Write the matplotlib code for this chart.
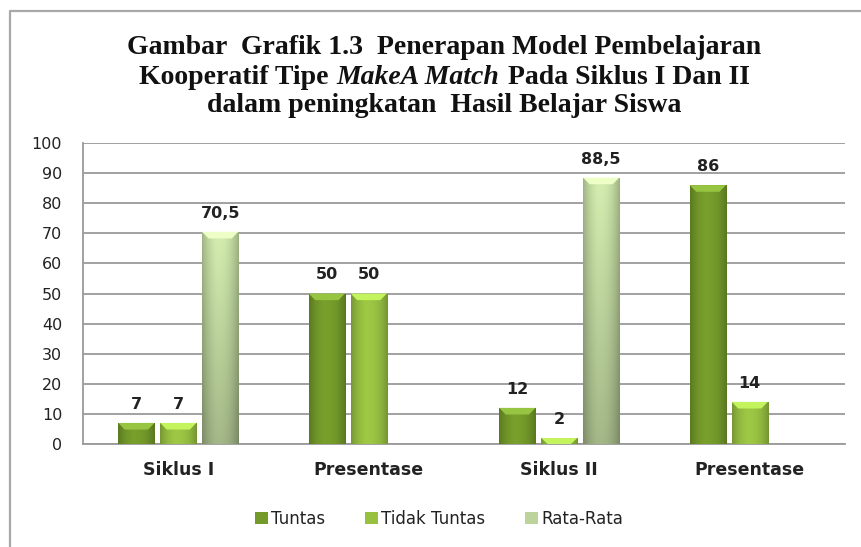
import numpy as np
import matplotlib
matplotlib.use("Agg")
import matplotlib.pyplot as plt
from matplotlib.lines import Line2D
from matplotlib.offsetbox import TextArea, HPacker, AnchoredOffsetbox
from matplotlib.colors import to_rgb

categories = ["Siklus I", "Presentase", "Siklus II", "Presentase"]
series_names = ["Tuntas", "Tidak Tuntas", "Rata-Rata"]
tuntas = [7, 50, 12, 86]
tidak_tuntas = [7, 50, 2, 14]
rata_rata = [70.5, np.nan, 88.5, np.nan]
yticks = [0, 10, 20, 30, 40, 50, 60, 70, 80, 90, 100]

colors = ["#749a2a", "#98c142", "#bcd39c"]

W, H = 861, 547
fig = plt.figure(figsize=(W / 100, H / 100), dpi=100)
fig.patch.set_facecolor("white")

# outer border (top + left)
fig.add_artist(Line2D([10 / W, 10 / W, 1.0], [0.0, 1 - 11 / H, 1 - 11 / H],
                      transform=fig.transFigure, color="#a8a8a8", lw=1.6))

ax = fig.add_axes([83 / W, 1 - 444 / H, (845 - 83) / W, (444 - 143) / H])
ax.set_xlim(-0.5, len(categories) - 0.5)
ax.set_ylim(0, 100)

x = np.arange(len(categories))
step = 0.22
width = 0.19
all_series = [tuntas, tidak_tuntas, rata_rata]


def fmt(v):
    s = ("%g" % v)
    return s.replace(".", ",")


for i, (vals, name, col) in enumerate(zip(all_series, series_names, colors)):
    bars = ax.bar(x + (i - 1) * step, vals, width, color=col, label=name,
                  zorder=3, edgecolor="none")
    base = np.array(to_rgb(col))
    for b, v in zip(bars, vals):
        if np.isnan(v):
            continue
        bx, by = b.get_x(), b.get_y()
        bw, bh = b.get_width(), b.get_height()
        nx, ny = 40, 60
        t = np.linspace(-1, 1, nx)
        shade = 1.0 - 0.22 * np.abs(t) ** 2.2 + 0.04 * (1 - np.abs(t + 0.2))
        img = np.ones((ny, nx, 3)) * base
        img = img * shade[None, :, None]
        if i == 2:
            vert = np.linspace(1.09, 0.84, ny)  # row 0 = top, lighter
            img = img * vert[:, None, None]
        img = np.clip(img, 0, 1)
        im = ax.imshow(img, extent=[bx, bx + bw, by, by + bh], origin="upper",
                       aspect="auto", zorder=3.5, interpolation="bilinear")
        im.set_clip_path(b)
        # top highlight band
        hh = min(2.2, bh)
        hl = np.clip(base * 1.18 + 0.06, 0, 1)
        ax.fill([bx, bx + bw, bx + bw * 0.82, bx + bw * 0.18],
                [by + bh, by + bh, by + bh - hh, by + bh - hh],
                color=hl, zorder=3.6, lw=0)
        ax.annotate(fmt(v), (bx + bw / 2, by + bh), xytext=(0, 8),
                    textcoords="offset points", ha="center", va="bottom",
                    fontsize=11.5, fontweight="bold", color="#222222",
                    family="DejaVu Sans", zorder=5)

ax.set_xlim(-0.5, len(categories) - 0.5)
ax.set_ylim(0, 100)
ax.set_yticks(yticks)
ax.set_yticklabels([str(t) for t in yticks], fontsize=11.5, color="#222222")
ax.tick_params(axis="y", length=0, pad=15)
ax.set_xticks(x)
ax.set_xticklabels(categories, fontsize=12.5, fontweight="bold", color="#222222")
ax.tick_params(axis="x", length=0, pad=12)
ax.yaxis.grid(True, color="#9a9a9a", lw=1.3, zorder=1)
ax.set_axisbelow(True)
for s in ["top", "right"]:
    ax.spines[s].set_visible(False)
ax.spines["left"].set_color("#9a9a9a")
ax.spines["left"].set_linewidth(1.3)
ax.spines["bottom"].set_color("#9a9a9a")
ax.spines["bottom"].set_linewidth(1.3)

leg = fig.legend(loc="center", bbox_to_anchor=(0.51, 1 - 519 / H), ncol=3,
                 frameon=False, fontsize=12, handlelength=0.75,
                 handleheight=0.75, handletextpad=0.2, columnspacing=2.4)
for t in leg.get_texts():
    t.set_color("#222222")

# title
tfont = dict(family="Liberation Serif", weight="bold", size=20, color="#111111")
line1 = "Gambar  Grafik 1.3  Penerapan Model Pembelajaran"
line3 = "dalam peningkatan  Hasil Belajar Siswa"
fig.text(0.516, 1 - 47 / H, line1, ha="center", va="center", **tfont)
fig.text(0.516, 1 - 105 / H, line3, ha="center", va="center", **tfont)
parts = [TextArea("Kooperatif Tipe", textprops=tfont),
         TextArea("MakeA Match", textprops=dict(tfont, style="italic")),
         TextArea("Pada Siklus I Dan II", textprops=tfont)]
pack = HPacker(children=parts, align="baseline", pad=0, sep=6)
ab = AnchoredOffsetbox(loc="center", child=pack, frameon=False, pad=0,
                       bbox_to_anchor=(0.516, 1 - 77 / H),
                       bbox_transform=fig.transFigure, borderpad=0)
fig.add_artist(ab)

fig.savefig("out.png", dpi=100, facecolor="white")
